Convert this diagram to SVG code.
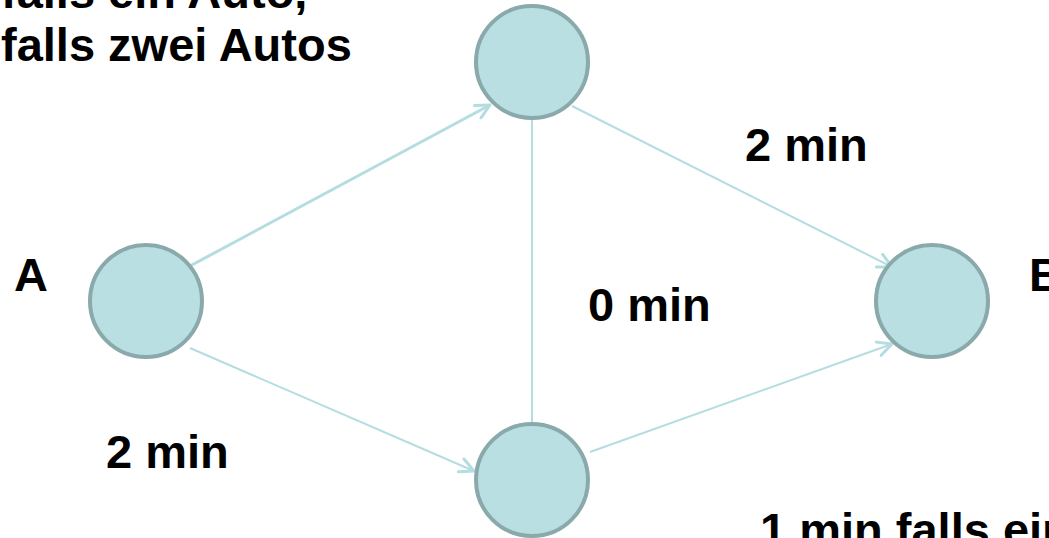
<svg xmlns="http://www.w3.org/2000/svg" width="1049" height="538" viewBox="0 0 1049 538">
<style>
.node{fill:#b9dfe3;stroke:#8aa9ab;stroke-width:4}
.edge{fill:none;stroke:#b3dde0;stroke-width:2}
.lbl{font-family:"Liberation Sans",Arial,sans-serif;font-weight:bold;font-size:47px;fill:#000}
</style>
<defs>
<marker id="arr" viewBox="0 0 20 20" markerUnits="userSpaceOnUse" markerWidth="20" markerHeight="20" refX="16" refY="10" orient="auto" overflow="visible">
<path d="M2,3 L16,10 L2,17" fill="none" stroke="#b3dde0" stroke-width="3" stroke-linecap="round" stroke-linejoin="round"/>
</marker>
</defs>
<rect width="1049" height="538" fill="#fff"/>
<g id="connectors">
<line class="edge" x1="190" y1="266" x2="490" y2="105" style="stroke-width:3" marker-end="url(#arr)"/>
<line class="edge" x1="572" y1="106" x2="892" y2="267" marker-end="url(#arr)"/>
<line class="edge" x1="190" y1="348" x2="474" y2="471" marker-end="url(#arr)"/>
<line class="edge" x1="590" y1="452" x2="892" y2="344" marker-end="url(#arr)"/>
<line class="edge" x1="532" y1="119" x2="532" y2="423"/>
</g>
<g id="node-top"><circle class="node" cx="532" cy="62" r="56"/></g>
<g id="node-A"><circle class="node" cx="146" cy="301" r="56"/></g>
<g id="node-B"><circle class="node" cx="932" cy="301" r="56"/></g>
<g id="node-bottom"><circle class="node" cx="532" cy="480" r="56"/></g>
<g id="labels">
<text class="lbl" x="1" y="8">falls ein Auto,</text>
<text class="lbl" x="1" y="61">falls zwei Autos</text>
<text class="lbl" x="14" y="291">A</text>
<text class="lbl" x="1029" y="291">B</text>
<text class="lbl" x="745" y="161">2 min</text>
<text class="lbl" x="588" y="321">0 min</text>
<text class="lbl" x="106" y="468">2 min</text>
<text class="lbl" x="760" y="546">1 min falls ein Auto</text>
</g>
</svg>
